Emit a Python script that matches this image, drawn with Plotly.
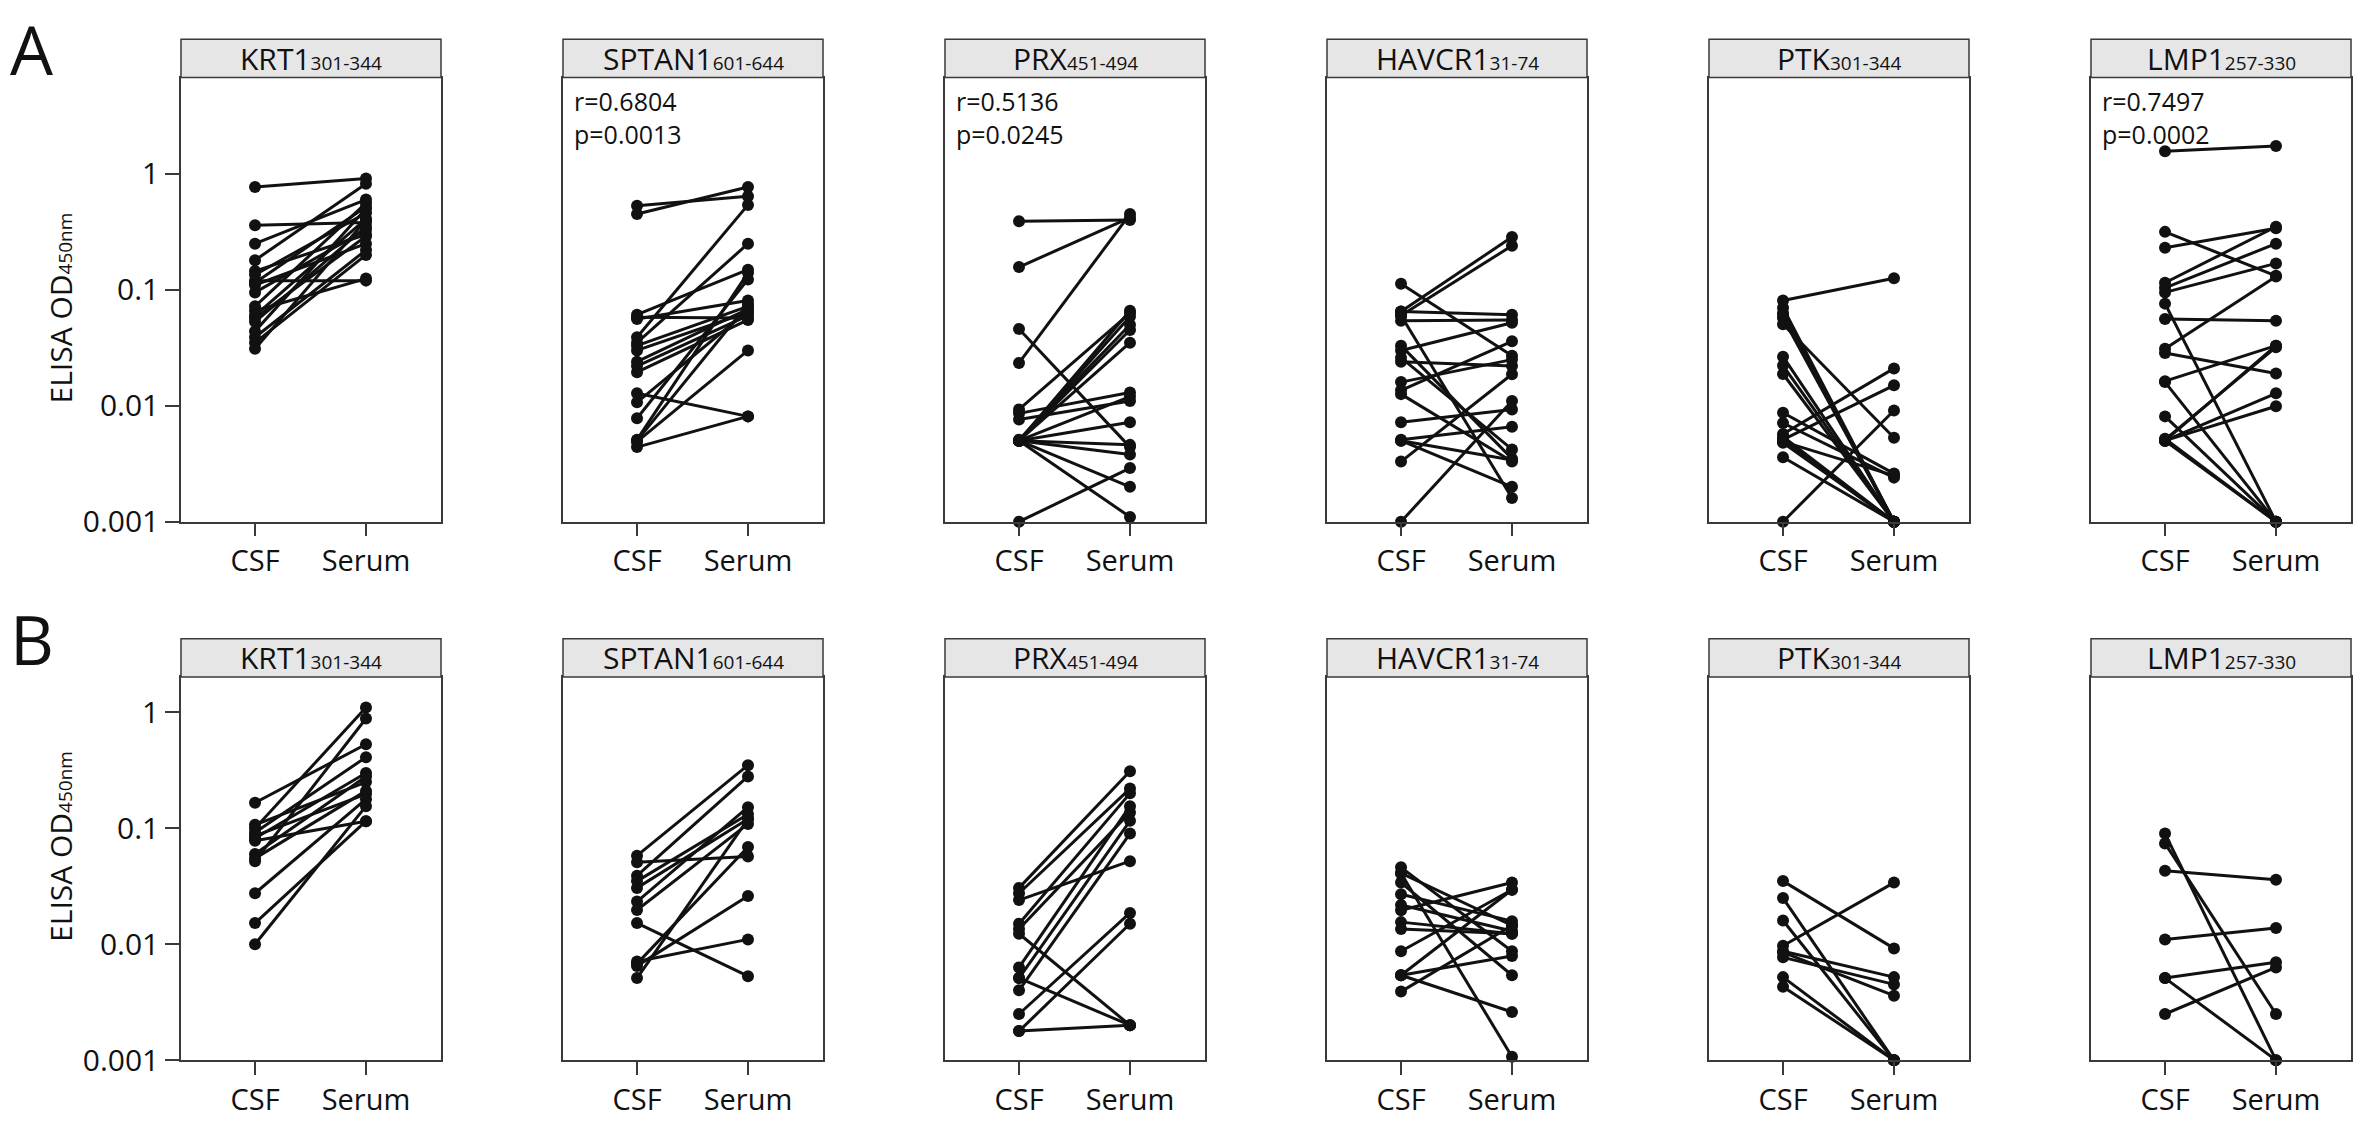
import plotly.graph_objects as go

W, H = 2368, 1144

PEPTIDES = ["KRT1", "SPTAN1", "PRX", "HAVCR1", "PTK", "LMP1"]
RESIDUES = ["301-344", "601-644", "451-494", "31-74", "301-344", "257-330"]
GROUPS = ["CSF", "Serum"]
Y_TICKS = [0.001, 0.01, 0.1, 1]
Y_TICK_TEXT = ["0.001", "0.01", "0.1", "1"]

# ---- panel A (paired CSF / serum, ELISA OD450) ----
A_KRT1_CSF = [0.77, 0.36, 0.25, 0.18, 0.145, 0.135, 0.12, 0.115, 0.11, 0.095,
              0.072, 0.066, 0.06, 0.057, 0.053, 0.044, 0.039, 0.035, 0.031]
A_KRT1_SERUM = [0.91, 0.38, 0.60, 0.82, 0.30, 0.46, 0.12, 0.52, 0.25, 0.33,
                0.56, 0.125, 0.41, 0.29, 0.35, 0.50, 0.22, 0.20, 0.40]

A_SPTAN1_CSF = [0.53, 0.45, 0.061, 0.058, 0.056, 0.039, 0.035, 0.033, 0.03, 0.024,
                0.022, 0.0195, 0.0128, 0.0107, 0.0078, 0.0051, 0.005, 0.0049, 0.0044]
A_SPTAN1_SERUM = [0.64, 0.77, 0.149, 0.057, 0.081, 0.54, 0.25, 0.072, 0.064, 0.068,
                  0.06, 0.055, 0.0081, 0.066, 0.123, 0.14, 0.075, 0.03, 0.0081]

A_PRX_CSF = [0.39, 0.157, 0.046, 0.0234, 0.0093, 0.0086, 0.0076, 0.005, 0.005, 0.005,
             0.005, 0.005, 0.005, 0.005, 0.005, 0.005, 0.005, 0.0051, 0.001]
A_PRX_SERUM = [0.40, 0.42, 0.0044, 0.45, 0.063, 0.013, 0.011, 0.066, 0.059, 0.045,
               0.035, 0.012, 0.0072, 0.0046, 0.0038, 0.002, 0.0011, 0.05, 0.0029]

A_HAVCR1_CSF = [0.113, 0.065, 0.06, 0.065, 0.054, 0.06, 0.033, 0.030, 0.026, 0.024,
                0.016, 0.0136, 0.0126, 0.0072, 0.0051, 0.005, 0.005, 0.0033, 0.001]
A_HAVCR1_SERUM = [0.027, 0.285, 0.24, 0.061, 0.055, 0.0016, 0.0035, 0.052, 0.0042, 0.022,
                  0.025, 0.036, 0.0033, 0.0093, 0.0066, 0.0034, 0.002, 0.0187, 0.011]

A_PTK_CSF = [0.081, 0.07, 0.063, 0.057, 0.0505, 0.0265, 0.0222, 0.0188, 0.0087, 0.0071,
             0.0057, 0.0054, 0.0051, 0.0051, 0.0049, 0.0048, 0.0036, 0.001, 0.06]
A_PTK_SERUM = [0.126, 0.001, 0.001, 0.001, 0.0053, 0.001, 0.001, 0.001, 0.0026, 0.0024,
               0.021, 0.001, 0.015, 0.001, 0.0025, 0.001, 0.001, 0.0091, 0.001]

A_LMP1_CSF = [1.57, 0.316, 0.231, 0.115, 0.104, 0.095, 0.076, 0.056, 0.031, 0.0285,
              0.0163, 0.016, 0.0081, 0.0051, 0.005, 0.005, 0.005, 0.005, 0.0052]
A_LMP1_SERUM = [1.74, 0.132, 0.34, 0.35, 0.25, 0.169, 0.001, 0.054, 0.13, 0.019,
                0.033, 0.001, 0.001, 0.032, 0.033, 0.0128, 0.0099, 0.001, 0.001]

# correlation labels (only where shown)
A_STATS = {"SPTAN1": ("0.6804", "0.0013"), "PRX": ("0.5136", "0.0245"),
           "LMP1": ("0.7497", "0.0002")}

# ---- panel B ----
B_KRT1_CSF = [0.166, 0.107, 0.100, 0.092, 0.086, 0.082, 0.078, 0.060, 0.055, 0.052,
              0.0275, 0.0152, 0.010]
B_KRT1_SERUM = [0.53, 0.25, 1.10, 0.41, 0.197, 0.30, 0.115, 0.28, 0.21, 0.885,
                0.178, 0.115, 0.155]

B_SPTAN1_CSF = [0.058, 0.051, 0.039, 0.035, 0.0306, 0.0233, 0.0197, 0.0152, 0.0071,
                0.0065, 0.0051, 0.0068]
B_SPTAN1_SERUM = [0.35, 0.057, 0.28, 0.132, 0.12, 0.152, 0.109, 0.0053, 0.011,
                  0.026, 0.12, 0.069]

B_PRX_CSF = [0.0306, 0.0275, 0.024, 0.015, 0.0135, 0.0123, 0.0063, 0.0051, 0.0051,
             0.004, 0.0025, 0.00178, 0.00178]
B_PRX_SERUM = [0.31, 0.22, 0.052, 0.20, 0.137, 0.002, 0.155, 0.116, 0.002,
               0.09, 0.0186, 0.015, 0.002]

B_HAVCR1_CSF = [0.046, 0.041, 0.041, 0.034, 0.027, 0.0218, 0.0196, 0.0155, 0.0135,
                0.0087, 0.0054, 0.0054, 0.0054, 0.0039]
B_HAVCR1_SERUM = [0.0087, 0.00107, 0.0145, 0.0054, 0.0158, 0.013, 0.034, 0.0123, 0.0123,
                  0.0295, 0.0295, 0.0026, 0.0079, 0.0145]

B_PTK_CSF = [0.035, 0.025, 0.016, 0.0097, 0.0087, 0.0077, 0.0085, 0.0052, 0.0043]
B_PTK_SERUM = [0.0092, 0.001, 0.001, 0.034, 0.0052, 0.0045, 0.0036, 0.001, 0.001]

B_LMP1_CSF = [0.09, 0.074, 0.043, 0.011, 0.0051, 0.0051, 0.0025]
B_LMP1_SERUM = [0.001, 0.0025, 0.036, 0.0138, 0.007, 0.001, 0.0063]

ROWS = [
    dict(letter="A", stats=A_STATS, header_top=40, plot_top=79, plot_bottom=531,
         ymax=0.83, title_y=314, letter_y=0,
         data=[(A_KRT1_CSF, A_KRT1_SERUM), (A_SPTAN1_CSF, A_SPTAN1_SERUM),
               (A_PRX_CSF, A_PRX_SERUM), (A_HAVCR1_CSF, A_HAVCR1_SERUM),
               (A_PTK_CSF, A_PTK_SERUM), (A_LMP1_CSF, A_LMP1_SERUM)]),
    dict(letter="B", stats={}, header_top=650, plot_top=689, plot_bottom=1079,
         ymax=0.305, title_y=862, letter_y=601,
         data=[(B_KRT1_CSF, B_KRT1_SERUM), (B_SPTAN1_CSF, B_SPTAN1_SERUM),
               (B_PRX_CSF, B_PRX_SERUM), (B_HAVCR1_CSF, B_HAVCR1_SERUM),
               (B_PTK_CSF, B_PTK_SERUM), (B_LMP1_CSF, B_LMP1_SERUM)]),
]

COL_LEFT = [181 + 382 * i for i in range(6)]
COL_W = 260
FONT = "Open Sans"
INK = "#111111"
EDGE = "#3a3a3a"


def px(x):
    return x / W


def py(y):
    return 1 - y / H


fig = go.Figure()
shapes, annotations = [], []
n = 0

for row in ROWS:
    for c, (csf, serum) in enumerate(row["data"]):
        n += 1
        sfx = "" if n == 1 else str(n)
        xs, ys = [], []
        for a, b in zip(csf, serum):
            xs += [1, 2, None]
            ys += [a, b, None]
        fig.add_trace(go.Scatter(
            x=xs, y=ys, mode="lines+markers", xaxis="x" + sfx, yaxis="y" + sfx,
            line=dict(color=INK, width=3), marker=dict(color=INK, size=12),
            cliponaxis=False, showlegend=False, hoverinfo="skip"))

        left = COL_LEFT[c]
        fig.layout["xaxis" + sfx] = dict(
            domain=[px(left), px(left + COL_W)], anchor="y" + sfx,
            range=[0.333, 2.676], tickvals=[1, 2], ticktext=GROUPS,
            ticks="outside", ticklen=13, tickwidth=1.5, tickcolor=EDGE,
            showline=True, mirror=True, linecolor=EDGE, linewidth=1.5,
            showgrid=False, zeroline=False, fixedrange=True,
            tickfont=dict(family=FONT, size=29, color=INK))
        first = c == 0
        fig.layout["yaxis" + sfx] = dict(
            domain=[py(row["plot_bottom"]), py(row["plot_top"])], anchor="x" + sfx,
            type="log", range=[-3, row["ymax"]], tickvals=Y_TICKS,
            ticktext=Y_TICK_TEXT, showticklabels=first,
            ticks="outside" if first else "", ticklen=14, tickwidth=1.5,
            tickcolor=EDGE, showline=True, mirror=True, linecolor=EDGE,
            linewidth=1.5, showgrid=False, zeroline=False, fixedrange=True,
            tickfont=dict(family=FONT, size=30, color=INK))

        # strip header
        shapes.append(dict(type="rect", xref="paper", yref="paper",
                           x0=px(left), x1=px(left + COL_W),
                           y0=py(row["plot_top"]), y1=py(row["header_top"]),
                           fillcolor="#e6e6e6", line=dict(color=EDGE, width=1.5)))
        annotations.append(dict(
            xref="paper", yref="paper", x=px(left + COL_W / 2),
            y=py((row["header_top"] + row["plot_top"]) / 2),
            text=f"{PEPTIDES[c]}<span style='font-size:19px'>{RESIDUES[c]}</span>",
            showarrow=False, xanchor="center", yanchor="middle",
            font=dict(family=FONT, size=30, color=INK)))

        if PEPTIDES[c] in row["stats"]:
            r, p = row["stats"][PEPTIDES[c]]
            annotations.append(dict(
                xref="paper", yref="paper", x=px(left + 9), y=py(row["plot_top"] + 4),
                text=f"r={r}<br>p={p}", showarrow=False, align="left",
                xanchor="left", yanchor="top",
                font=dict(family=FONT, size=25, color=INK)))

    # y axis title and panel letter
    annotations.append(dict(
        xref="paper", yref="paper", x=px(61), y=py(row["title_y"]),
        text="ELISA OD<span style='font-size:19px'>450nm</span>", textangle=-90,
        showarrow=False, xanchor="center", yanchor="middle",
        font=dict(family=FONT, size=30, color=INK)))
    annotations.append(dict(
        xref="paper", yref="paper", x=px(8), y=py(row["letter_y"]),
        text=row["letter"], showarrow=False, xanchor="left", yanchor="top",
        font=dict(family=FONT, size=68, color=INK)))

fig.update_layout(
    width=W, height=H, margin=dict(l=0, r=0, t=0, b=0),
    paper_bgcolor="white", plot_bgcolor="white",
    shapes=shapes, annotations=annotations, showlegend=False)

fig.write_html("out.html", config={"displayModeBar": False},
               post_script="document.body.style.margin='0';")
